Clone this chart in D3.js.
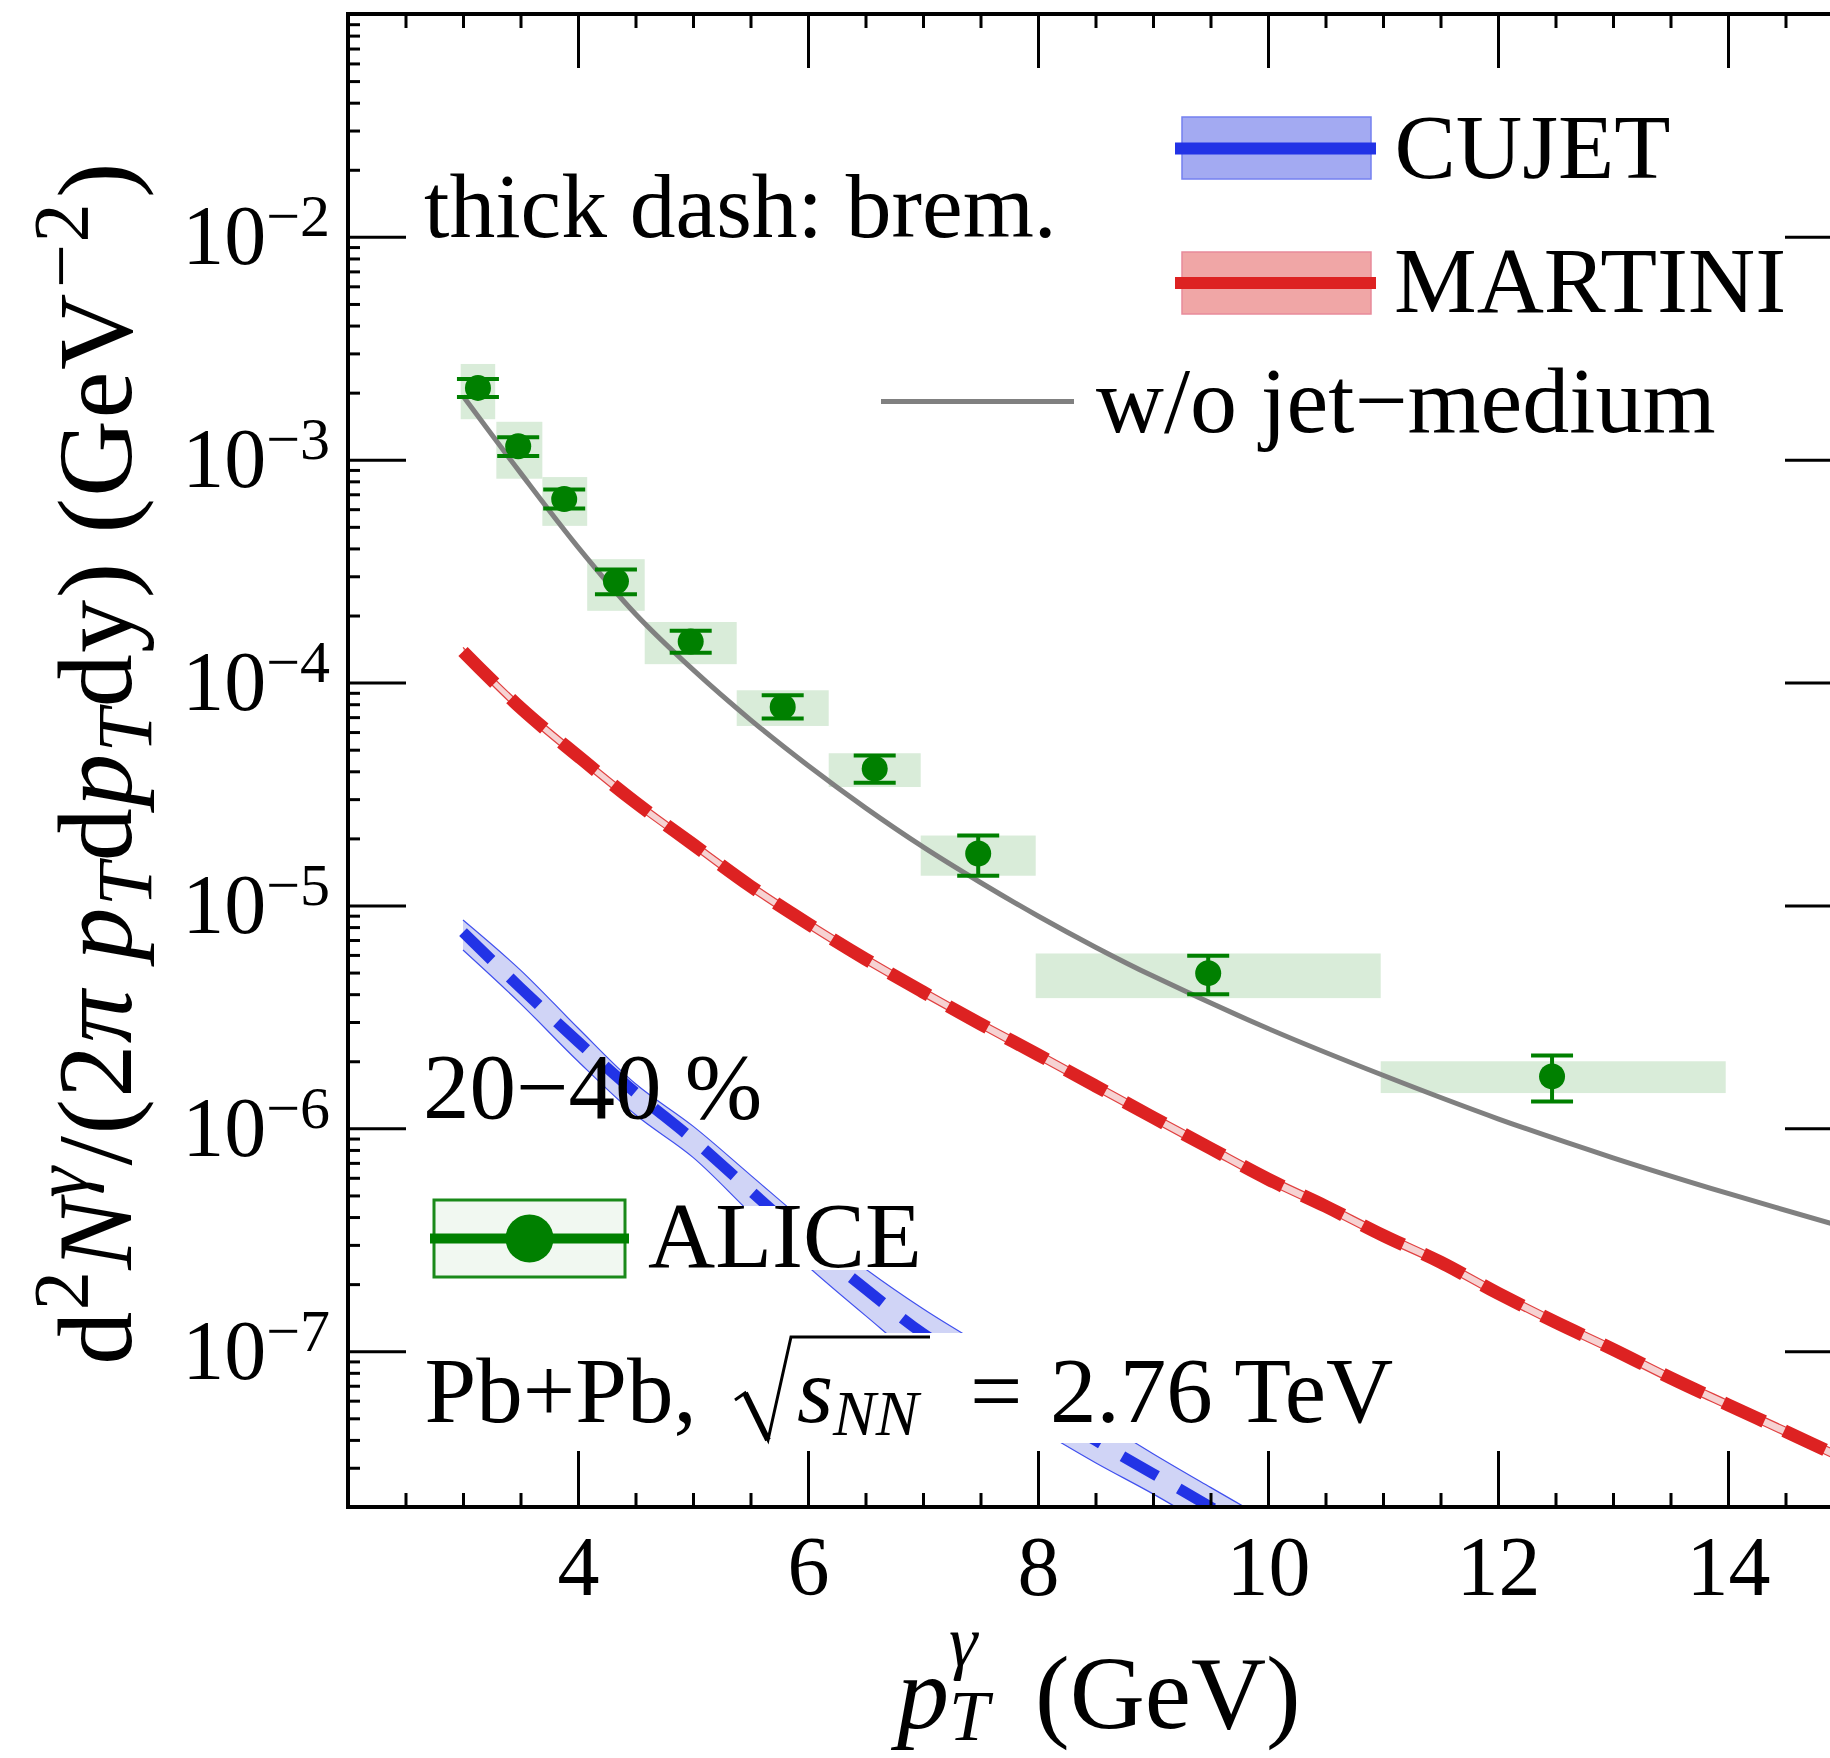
<!DOCTYPE html>
<html>
<head>
<meta charset="utf-8">
<script src="https://cdn.jsdelivr.net/npm/d3@7"></script>
<style>
  html, body { margin: 0; padding: 0; background: #fff; }
  svg { display: block; font-family: "Liberation Serif", "Times New Roman", serif; }
</style>
</head>
<body>
<svg id="chart" width="1830" height="1758"></svg>
<script>
// ---- ALICE direct photons, Pb+Pb 2.76 TeV, 20–40 % ----
const alicePt    = [3.13, 3.48, 3.88, 4.33, 4.98, 5.78, 6.58, 7.48, 9.48, 12.47];
const aliceYield = [2.10e-3, 1.15e-3, 6.66e-4, 2.85e-4, 1.53e-4, 7.78e-5, 4.11e-5, 1.71e-5, 4.97e-6, 1.71e-6];
const aliceStatLo = [1.91e-3, 1.04e-3, 6.05e-4, 2.49e-4, 1.36e-4, 6.90e-5, 3.55e-5, 1.36e-5, 4.00e-6, 1.32e-6];
const aliceStatHi = [2.30e-3, 1.26e-3, 7.36e-4, 3.22e-4, 1.71e-4, 8.77e-5, 4.71e-5, 2.06e-5, 5.95e-6, 2.12e-6];
const aliceSysLo = [1.52e-3, 8.22e-4, 5.05e-4, 2.10e-4, 1.21e-4, 6.39e-5, 3.40e-5, 1.36e-5, 3.84e-6, 1.44e-6];
const aliceSysHi = [2.69e-3, 1.48e-3, 8.36e-4, 3.58e-4, 1.87e-4, 9.24e-5, 4.82e-5, 2.06e-5, 6.09e-6, 2.00e-6];
const aliceBinLo = [2.98, 3.29, 3.69, 4.08, 4.58, 5.38, 6.18, 6.98, 7.98, 10.98];
const aliceBinHi = [3.28, 3.69, 4.08, 4.58, 5.38, 6.18, 6.98, 7.98, 10.98, 13.98];

// ---- CUJET jet-medium bremsstrahlung (band + central curve) ----
const cujetPt   = [3.0, 3.5, 4.0, 4.5, 5.0, 5.5, 6.0, 6.5, 7.0, 7.5, 8.0, 8.5, 9.0, 9.5, 10.0];
const cujetMid  = [7.59e-6, 4.27e-6, 2.45e-6, 1.445e-6, 8.91e-7, 5.25e-7, 3.09e-7, 1.905e-7, 1.20e-7, 8.32e-8, 5.75e-8, 3.98e-8, 2.82e-8, 2.00e-8, 1.41e-8];
const cujetLow  = [6.31e-6, 3.63e-6, 2.00e-6, 1.15e-6, 7.41e-7, 4.17e-7, 2.40e-7, 1.445e-7, 8.91e-8, 6.31e-8, 4.47e-8, 3.16e-8, 2.29e-8, 1.62e-8, 1.15e-8];
const cujetHigh = [8.61e-6, 5.13e-6, 2.82e-6, 1.585e-6, 1.023e-6, 6.17e-7, 3.72e-7, 2.34e-7, 1.55e-7, 1.07e-7, 7.24e-8, 5.01e-8, 3.47e-8, 2.45e-8, 1.74e-8];

// ---- MARTINI jet-medium bremsstrahlung ----
const martiniPt   = [3.0, 3.5, 4.0, 4.5, 5.0, 5.5, 6.0, 6.5, 7.0, 7.5, 8.0, 8.5, 9.0, 9.5, 10.0, 10.5, 11.0, 11.5, 12.0, 12.5, 13.0, 13.5, 14.0, 14.5, 15.0];
const martiniMid  = [1.38e-4, 7.71e-5, 4.68e-5, 2.90e-5, 1.88e-5, 1.22e-5, 8.28e-6, 5.75e-6, 4.09e-6, 2.94e-6, 2.14e-6, 1.55e-6, 1.12e-6, 8.13e-7, 5.92e-7, 4.47e-7, 3.31e-7, 2.51e-7, 1.82e-7, 1.35e-7, 1.02e-7, 7.59e-8, 5.75e-8, 4.37e-8, 3.31e-8];
const martiniLow  = [1.32e-4, 7.36e-5, 4.47e-5, 2.77e-5, 1.80e-5, 1.165e-5, 7.91e-6, 5.49e-6, 3.91e-6, 2.81e-6, 2.04e-6, 1.48e-6, 1.07e-6, 7.76e-7, 5.65e-7, 4.27e-7, 3.16e-7, 2.40e-7, 1.74e-7, 1.29e-7, 9.74e-8, 7.25e-8, 5.49e-8, 4.17e-8, 3.16e-8];
const martiniHigh = [1.44e-4, 8.06e-5, 4.89e-5, 3.03e-5, 1.96e-5, 1.275e-5, 8.65e-6, 6.01e-6, 4.27e-6, 3.07e-6, 2.24e-6, 1.62e-6, 1.17e-6, 8.50e-7, 6.19e-7, 4.67e-7, 3.46e-7, 2.62e-7, 1.90e-7, 1.41e-7, 1.066e-7, 7.93e-8, 6.01e-8, 4.57e-8, 3.46e-8];

// ---- photons without jet-medium contribution ----
const baselinePt  = [3.0, 3.5, 4.0, 4.5, 5.0, 5.5, 6.0, 6.5, 7.0, 7.5, 8.0, 8.5, 9.0, 10.0, 11.0, 12.0, 13.0, 14.0, 15.0];
const baselineVal = [1.932e-3, 8.73e-4, 4.055e-4, 2.032e-4, 1.143e-4, 6.81e-5, 4.246e-5, 2.742e-5, 1.832e-5, 1.268e-5, 8.97e-6, 6.50e-6, 4.82e-6, 2.805e-6, 1.73e-6, 1.104e-6, 7.38e-7, 5.105e-7, 3.614e-7];

// ---- axes ----
const xMajor = [4, 6, 8, 10, 12, 14];
const xMinor = [2.5, 3, 3.5, 4.5, 5, 5.5, 6.5, 7, 7.5, 8.5, 9, 9.5, 10.5, 11, 11.5, 12.5, 13, 13.5, 14.5];
const yMajor = [1e-2, 1e-3, 1e-4, 1e-5, 1e-6, 1e-7];
const yExponents = ["−2", "−3", "−4", "−5", "−6", "−7"];

const BLUE = "#2233e6", RED = "#dd2222", GREEN = "#008000", GRAY = "#808080";

const svg = d3.select("#chart");
const L = 348, R = 1843, T = 14, B = 1507;
const x = d3.scaleLinear().domain([2, 15]).range([L, R]);
const y = d3.scaleLog().domain([2e-8, 0.1]).range([B, T]);

svg.append("defs").append("clipPath").attr("id", "plotClip")
  .append("rect").attr("x", L).attr("y", T).attr("width", R - L).attr("height", B - T);

const plot = svg.append("g").attr("clip-path", "url(#plotClip)");

// systematic boxes
const alice = alicePt.map((p, i) => ({
  p, v: aliceYield[i], slo: aliceStatLo[i], shi: aliceStatHi[i],
  ylo: aliceSysLo[i], yhi: aliceSysHi[i], bl: aliceBinLo[i], bh: aliceBinHi[i]
}));
plot.append("g").selectAll("rect").data(alice).join("rect")
  .attr("x", d => x(d.bl)).attr("width", d => x(d.bh) - x(d.bl))
  .attr("y", d => y(d.yhi)).attr("height", d => y(d.ylo) - y(d.yhi))
  .attr("fill", "#d9ecd9");

const annot = (txt, px, py, fs) => svg.append("text").attr("x", px).attr("y", py)
  .attr("font-size", fs || 93).attr("fill", "#000").text(txt);
// centrality label sits beneath the curves
annot("20−40 %", 423, 1118);

const curve = d3.curveCatmullRom.alpha(0.5);
function band(ptArr, lo, hi, fill, edge) {
  const d = ptArr.map((p, i) => ({ p, lo: lo[i], hi: hi[i] }));
  plot.append("path").datum(d)
    .attr("d", d3.area().x(e => x(e.p)).y0(e => y(e.lo)).y1(e => y(e.hi)).curve(curve))
    .attr("fill", fill);
  [lo, hi].forEach(arr => {
    plot.append("path").datum(ptArr.map((p, i) => [p, arr[i]]))
      .attr("d", d3.line().x(e => x(e[0])).y(e => y(e[1])).curve(curve))
      .attr("fill", "none").attr("stroke", edge).attr("stroke-width", 1.2);
  });
}
function line(ptArr, vals, color, width, dash) {
  const p = plot.append("path").datum(ptArr.map((q, i) => [q, vals[i]]))
    .attr("d", d3.line().x(e => x(e[0])).y(e => y(e[1])).curve(curve))
    .attr("fill", "none").attr("stroke", color).attr("stroke-width", width);
  if (dash) p.attr("stroke-dasharray", dash);
}

band(cujetPt, cujetLow, cujetHigh, "#d0d4f6", "#4050ee");
line(cujetPt, cujetMid, BLUE, 11, "40,25");
band(martiniPt, martiniLow, martiniHigh, "#f6d2d2", "#e04040");
line(martiniPt, martiniMid, RED, 13, "45,22");
line(baselinePt, baselineVal, GRAY, 5, null);

// ALICE points with statistical errors
const pts = plot.append("g");
pts.selectAll("line.bar").data(alice).join("line").attr("class", "bar")
  .attr("x1", d => x(d.p)).attr("x2", d => x(d.p))
  .attr("y1", d => y(d.shi)).attr("y2", d => y(d.slo))
  .attr("stroke", GREEN).attr("stroke-width", 4);
["shi", "slo"].forEach(k => {
  pts.selectAll("line.cap-" + k).data(alice).join("line").attr("class", "cap-" + k)
    .attr("x1", d => x(d.p) - 21).attr("x2", d => x(d.p) + 21)
    .attr("y1", d => y(d[k])).attr("y2", d => y(d[k]))
    .attr("stroke", GREEN).attr("stroke-width", 4);
});
pts.selectAll("circle").data(alice).join("circle")
  .attr("cx", d => x(d.p)).attr("cy", d => y(d.v)).attr("r", 13).attr("fill", GREEN);

// ---- legends ----
const leg = svg.append("g");
leg.append("rect").attr("x", 1182).attr("y", 117).attr("width", 189).attr("height", 62)
  .attr("fill", "#a3aaf2").attr("stroke", "#7480f0").attr("stroke-width", 1.5);
leg.append("line").attr("x1", 1175).attr("x2", 1376).attr("y1", 148.5).attr("y2", 148.5)
  .attr("stroke", BLUE).attr("stroke-width", 12);
leg.append("rect").attr("x", 1182).attr("y", 252).attr("width", 189).attr("height", 62)
  .attr("fill", "#f0a6a6").attr("stroke", "#e88a9a").attr("stroke-width", 1.5);
leg.append("line").attr("x1", 1175).attr("x2", 1376).attr("y1", 283).attr("y2", 283)
  .attr("stroke", RED).attr("stroke-width", 12);
leg.append("line").attr("x1", 881).attr("x2", 1074).attr("y1", 401.5).attr("y2", 401.5)
  .attr("stroke", GRAY).attr("stroke-width", 5);

annot("thick dash: brem.", 424, 237, 91.5);
annot("CUJET", 1394.5, 178, 92);
annot("MARTINI", 1394, 312);
annot("w/o jet−medium", 1096, 432, 94);

// ALICE legend (text on a white background)
leg.append("rect").attr("x", 645).attr("y", 1206).attr("width", 282).attr("height", 64).attr("fill", "#fff");
leg.append("rect").attr("x", 434).attr("y", 1200).attr("width", 191).attr("height", 77)
  .attr("fill", "#f1f8f1").attr("stroke", "#1a8a1a").attr("stroke-width", 3);
leg.append("line").attr("x1", 430).attr("x2", 629).attr("y1", 1238.5).attr("y2", 1238.5)
  .attr("stroke", GREEN).attr("stroke-width", 10);
leg.append("circle").attr("cx", 529.5).attr("cy", 1238.5).attr("r", 24).attr("fill", GREEN);
annot("ALICE", 648, 1267);

// collision system label with radical
svg.append("rect").attr("x", 420).attr("y", 1333).attr("width", 990).attr("height", 110).attr("fill", "#fff");
const sys = svg.append("text").attr("y", 1422).attr("font-size", 93).attr("fill", "#000");
sys.append("tspan").attr("x", 424.5).text("Pb+Pb,");
sys.append("tspan").attr("x", 797).attr("font-style", "italic").text("s");
sys.append("tspan").attr("x", 833).attr("dy", 13).attr("font-size", 64).attr("font-style", "italic").text("NN");
sys.append("tspan").attr("x", 970).attr("dy", -13).text("=");
sys.append("tspan").attr("x", 1050).text("2.76 TeV");
svg.append("path")
  .attr("d", "M735,1400 L745,1393 L768,1440 L791,1337 L930,1337")
  .attr("fill", "none").attr("stroke", "#000").attr("stroke-width", 3).attr("stroke-linejoin", "miter");
svg.append("path").attr("d", "M745,1393 L768,1440")
  .attr("fill", "none").attr("stroke", "#000").attr("stroke-width", 6);

// ---- frame, ticks and tick labels ----
const axes = svg.append("g");
function styleAxis(g) {
  g.select(".domain").remove();
  g.selectAll(".tick line").attr("stroke", "#000").attr("stroke-width", 3);
}
axes.append("g").attr("transform", `translate(0,${B})`)
  .call(d3.axisBottom(x).tickValues(xMajor).tickSizeInner(-56).tickSizeOuter(0).tickFormat(d3.format("d")))
  .call(styleAxis)
  .call(g => g.selectAll(".tick text").attr("dy", null).attr("y", 88)
    .attr("font-size", 84).attr("fill", "#000").attr("font-family", "Liberation Serif"));
axes.append("g").attr("transform", `translate(0,${B})`)
  .call(d3.axisBottom(x).tickValues(xMinor).tickSizeInner(-14).tickSizeOuter(0).tickFormat(""))
  .call(styleAxis);
axes.append("g").attr("transform", `translate(0,${T})`)
  .call(d3.axisTop(x).tickValues(xMajor).tickSizeInner(-54).tickSizeOuter(0).tickFormat(""))
  .call(styleAxis);
axes.append("g").attr("transform", `translate(0,${T})`)
  .call(d3.axisTop(x).tickValues(xMinor).tickSizeInner(-14).tickSizeOuter(0).tickFormat(""))
  .call(styleAxis);

const yMinor = [];
[-8, -7, -6, -5, -4, -3, -2].forEach(e => [2, 3, 4, 5, 6, 7, 8, 9].forEach(m => {
  const v = m * Math.pow(10, e);
  if (v > 2.01e-8 && v < 0.099) yMinor.push(v);
}));
axes.append("g").attr("transform", `translate(${L},0)`)
  .call(d3.axisLeft(y).tickValues(yMajor).tickSizeInner(-58).tickSizeOuter(0).tickPadding(18).tickFormat(""))
  .call(styleAxis)
  .call(g => g.selectAll(".tick text").each(function (d, i) {
    const t = d3.select(this).attr("font-size", 84).attr("fill", "#000")
      .attr("font-family", "Liberation Serif").attr("dy", "0.32em");
    t.append("tspan").text("10");
    t.append("tspan").attr("font-size", 60).attr("dy", -28).text(yExponents[i]);
  }));
axes.append("g").attr("transform", `translate(${L},0)`)
  .call(d3.axisLeft(y).tickValues(yMinor).tickSizeInner(-12).tickSizeOuter(0).tickFormat(""))
  .call(styleAxis);
axes.append("g").attr("transform", `translate(${R},0)`)
  .call(d3.axisRight(y).tickValues(yMajor).tickSizeInner(-58).tickSizeOuter(0).tickFormat(""))
  .call(styleAxis);
axes.append("g").attr("transform", `translate(${R},0)`)
  .call(d3.axisRight(y).tickValues(yMinor).tickSizeInner(-12).tickSizeOuter(0).tickFormat(""))
  .call(styleAxis);

axes.append("rect").attr("x", L).attr("y", T).attr("width", R - L).attr("height", B - T)
  .attr("fill", "none").attr("stroke", "#000").attr("stroke-width", 4);

// ---- axis titles ----
function rich(textSel, segs, small, up, down) {
  let cur = 0;
  segs.forEach(s => {
    const ts = textSel.append("tspan").text(s.t);
    if (s.it) ts.attr("font-style", "italic");
    const target = s.pos === "sup" ? -up : s.pos === "sub" ? down : 0;
    if (s.pos) ts.attr("font-size", small);
    if (target !== cur) { ts.attr("dy", target - cur); cur = target; }
    if (s.dx) ts.attr("dx", s.dx);
  });
}

const yTitle = svg.append("text").attr("font-size", 106).attr("fill", "#000")
  .attr("letter-spacing", 1.5)
  .attr("text-anchor", "middle").attr("transform", "translate(131,763) rotate(-90)");
rich(yTitle, [
  { t: "d" }, { t: "2", pos: "sup" }, { t: "N", it: 1 }, { t: "γ", it: 1, pos: "sup" },
  { t: "/(2" }, { t: "π", it: 1 }, { t: " " }, { t: "p", it: 1 }, { t: "T", it: 1, pos: "sub" },
  { t: "d" }, { t: "p", it: 1 }, { t: "T", it: 1, pos: "sub" }, { t: "dy) (GeV" },
  { t: "−2", pos: "sup", dx: 4 }, { t: ")", dx: 4 }
], 78, 44, 20);

const xTitle = svg.append("text").attr("font-size", 104).attr("fill", "#000").attr("y", 1728);
xTitle.append("tspan").attr("x", 897).attr("font-style", "italic").text("p");
const gam = xTitle.append("tspan").attr("font-style", "italic").attr("font-size", 72).attr("dy", -62).text("γ");
const gw = gam.node().getComputedTextLength();
xTitle.append("tspan").attr("font-style", "italic").attr("font-size", 72)
  .attr("dx", -gw).attr("dy", 74).text("T");
xTitle.append("tspan").attr("x", 1035).attr("dy", -12).text("(GeV)");
</script>
</body>
</html>
